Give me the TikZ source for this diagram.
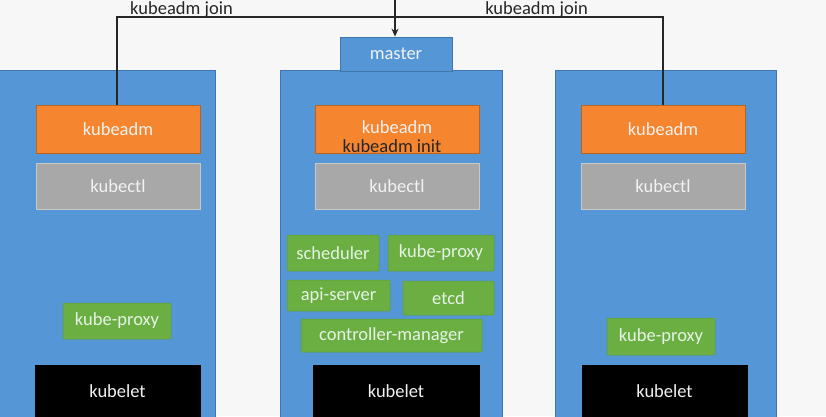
\documentclass[tikz,border=0pt]{standalone}
\usepackage{fontspec}
\setmainfont{Carlito}
\usetikzlibrary{arrows.meta}
\definecolor{bg}{HTML}{F7F7F7}
\definecolor{nodeblue}{HTML}{5597D6}
\definecolor{nodeblueb}{HTML}{3F76AD}
\definecolor{kadm}{HTML}{F5852F}
\definecolor{kadmb}{HTML}{B8641F}
\definecolor{kctl}{HTML}{A8A8A8}
\definecolor{kctlb}{HTML}{C8C8C8}
\definecolor{grn}{HTML}{6BAF43}
\definecolor{grnb}{HTML}{5A9A38}
\definecolor{txtw}{HTML}{F2F2F2}
\tikzset{
  base/.style={rectangle, inner sep=0pt, font=\fontsize{18.5}{21}\selectfont, text=txtw},
  hostbox/.style={base, fill=nodeblue, draw=nodeblueb, line width=0.8pt},
  admbox/.style={base, fill=kadm, draw=kadmb, line width=0.8pt, minimum width=164pt, minimum height=48pt},
  ctlbox/.style={base, fill=kctl, draw=kctlb, line width=0.8pt, minimum width=164pt, minimum height=46pt},
  compbox/.style={base, fill=grn, draw=grnb, line width=0.5pt, rounded corners=1pt, text=txtw!95!green},
  letbox/.style={base, fill=black, draw=black, minimum width=165pt, minimum height=52pt},
  lbl/.style={font=\fontsize{18.5}{21}\selectfont, text=black!85, inner sep=0pt},
  wire/.style={line width=1.2pt, draw=black!85}
}
\begin{document}
\begin{tikzpicture}[x=1pt,y=-1pt]
\useasboundingbox (0,0) rectangle (826,416);
\fill[bg] (0,0) rectangle (826,416);
% host boxes
\node[hostbox, minimum width=218pt, minimum height=350pt] (hostL) at (106,245) {};
\node[hostbox, minimum width=222pt, minimum height=350pt] (hostM) at (391,245) {};
\node[hostbox, minimum width=221pt, minimum height=350pt] (hostR) at (665.5,245) {};
\node[hostbox, minimum width=112pt, minimum height=34pt] (tab) at (396,54) {master};
% kubeadm
\node[admbox] (admL) at (118,129) {kubeadm};
\node[admbox] (admM) at (397,129) {};
\node[admbox] (admR) at (663,129) {kubeadm};
\node[base, anchor=center] (admMt) at (397,127) {kubeadm};
\node[lbl] (init) at (392,146) {kubeadm init};
% kubectl
\node[ctlbox] (ctlL) at (118,186) {kubectl};
\node[ctlbox] (ctlM) at (397,186) {kubectl};
\node[ctlbox] (ctlR) at (663,186) {kubectl};
% master components
\node[compbox, minimum width=92pt, minimum height=36pt] (sched) at (333,253) {scheduler};
\node[compbox, minimum width=106pt, minimum height=36pt] (kpM) at (441,253) {kube-proxy};
\node[compbox, minimum width=103pt, minimum height=31pt] (api) at (338.5,295.5) {api-server};
\node[compbox, minimum width=91pt, minimum height=34pt] (etcd) at (448.5,298) {etcd};
\node[compbox, minimum width=181pt, minimum height=33pt] (cm) at (391.5,335.5) {controller-manager};
% node kube-proxy
\node[compbox, minimum width=108pt, minimum height=36pt] (kpL) at (117,321) {kube-proxy};
\node[compbox, minimum width=108pt, minimum height=37pt] (kpR) at (661,336.5) {kube-proxy};
% kubelet
\node[letbox] (letL) at (117.5,391) {kubelet};
\node[letbox, minimum width=166pt] (letM) at (396,391) {kubelet};
\node[letbox] (letR) at (664.5,391) {kubelet};
% connectors
\coordinate (bar) at (395,17);
\coordinate (topin) at (395,0);
\draw[wire] (admL.north -| 117,0) |- (bar) -| (admR.north);
\draw[wire, -{Stealth[length=8pt,width=7pt]}] (topin) -- (topin |- tab.north);
\node[lbl] (joinL) at (181.5,10) {kubeadm join};
\node[lbl] (joinR) at (536.5,10) {kubeadm join};
\end{tikzpicture}
\end{document}
